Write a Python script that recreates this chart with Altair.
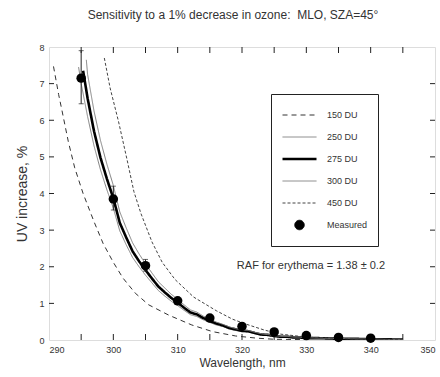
import altair as alt
import pandas as pd

series_names = ["150 DU", "250 DU", "275 DU", "300 DU", "450 DU", "Measured"]

wl_150 = [290.7, 291.5, 292, 293, 294, 295.3, 297, 298.4, 300, 301.5, 303.4, 305.5, 308.6, 312.2, 315.4, 319, 322.3, 325, 330]
val_150 = [7.47, 6.7, 6.28, 5.42, 4.7, 4.0, 3.23, 2.64, 2.12, 1.69, 1.28, 0.96, 0.68, 0.41, 0.23, 0.11, 0.05, 0.02, 0.01]

wl_275 = [295.3, 296, 297, 298, 299, 300, 301, 302, 303, 304, 305, 306, 307, 308, 309, 310, 311, 312, 313, 314,
          315, 316, 317, 318, 319, 320, 321, 322, 323, 324, 325, 326, 327, 328, 329, 330, 332, 334, 336, 338,
          340, 342, 345]
val_275 = [7.35, 6.6, 5.7, 4.98, 4.4, 3.87, 3.2, 2.8, 2.42, 2.15, 1.91, 1.68, 1.46, 1.3, 1.15, 1.02, 0.88, 0.75, 0.7, 0.6,
           0.52, 0.45, 0.4, 0.33, 0.29, 0.25, 0.24, 0.19, 0.15, 0.14, 0.11, 0.09, 0.09, 0.07, 0.07, 0.05, 0.05, 0.04, 0.03, 0.03,
           0.02, 0.02, 0.01]

wl_250 = [294.6, 295, 296, 297, 298, 299, 300, 301, 302, 303, 304, 305, 306, 307, 308, 309, 310, 311, 312, 313, 314,
          315, 316, 317, 318, 319, 320, 321, 322, 323, 324, 325, 326, 327, 328, 329, 330, 332, 334, 336, 338,
          340, 342, 345]
val_250 = [7.45, 7.0, 6.1, 5.3, 4.65, 4.1, 3.6, 2.98, 2.6, 2.25, 2.0, 1.77, 1.56, 1.35, 1.2, 1.06, 0.94, 0.81, 0.69, 0.64, 0.55,
           0.48, 0.41, 0.37, 0.3, 0.26, 0.23, 0.22, 0.17, 0.13, 0.12, 0.1, 0.08, 0.08, 0.06, 0.06, 0.04, 0.04, 0.03, 0.03, 0.02,
           0.02, 0.01, 0.01]

wl_300 = [295.8, 296, 297, 298, 299, 300, 301, 302, 303, 304, 305, 306, 307, 308, 309, 310, 311, 312, 313, 314,
          315, 316, 317, 318, 319, 320, 321, 322, 323, 324, 325, 326, 327, 328, 329, 330, 332, 334, 336, 338,
          340, 342, 345]
val_300 = [7.65, 7.25, 6.25, 5.45, 4.8, 4.22, 3.5, 3.06, 2.65, 2.35, 2.08, 1.83, 1.59, 1.42, 1.25, 1.11, 0.96, 0.82, 0.76, 0.65,
           0.57, 0.49, 0.43, 0.36, 0.31, 0.27, 0.26, 0.21, 0.17, 0.15, 0.12, 0.1, 0.1, 0.08, 0.08, 0.06, 0.05, 0.04, 0.04, 0.03,
           0.03, 0.02, 0.01]

wl_450 = [298.6, 299.5, 300.8, 302.1, 303.2, 304.3, 306, 307.6, 309.6, 312.5, 316, 318.5, 320.5, 323.5, 326, 330, 335, 340, 345]
val_450 = [7.7, 6.88, 5.97, 4.95, 4.05, 3.45, 2.68, 2.12, 1.65, 1.17, 0.8, 0.57, 0.44, 0.27, 0.16, 0.08, 0.04, 0.02, 0.01]

meas_wl = [295, 300, 305, 310, 315, 320, 325, 330, 335, 340]
meas_val = [7.15, 3.85, 2.03, 1.07, 0.6, 0.37, 0.22, 0.12, 0.07, 0.05]

err_wl = [295, 300, 305]
err_lo = [6.45, 3.55, 1.88]
err_hi = [7.9, 4.2, 2.2]

x_labels = [290, 300, 310, 320, 330, 340, 350]
y_labels = [0, 1, 2, 3, 4, 5, 6, 7, 8]
x_ticks = [295, 300, 305, 310, 315, 320, 325, 330, 335, 340, 345]
y_ticks = [1, 2, 3, 4, 5, 6, 7]

raf_text = "RAF for erythema = 1.38 \u00b1 0.2"
raf_x = [319.2]
raf_y = [2.02]

title_text = "Sensitivity to a 1% decrease in ozone:\u00a0 MLO, SZA=45\u00b0"

# ---------- build tables ----------
rows = []
for name, wls, vals in [("150 DU", wl_150, val_150), ("250 DU", wl_250, val_250),
                        ("275 DU", wl_275, val_275), ("300 DU", wl_300, val_300),
                        ("450 DU", wl_450, val_450)]:
    for w, v in zip(wls, vals):
        rows.append({"series": name, "wl": w, "val": v})
lines_df = pd.DataFrame(rows)
meas_df = pd.DataFrame({"series": "Measured", "wl": meas_wl, "val": meas_val})
err_df = pd.DataFrame({"wl": err_wl, "val": err_lo, "val2": err_hi})
err_lo_df = pd.DataFrame({"wl": err_wl, "val": err_lo})
err_hi_df = pd.DataFrame({"wl": err_wl, "val": err_hi})
xt_df = pd.DataFrame({"wl": x_ticks})
yt_df = pd.DataFrame({"val": y_ticks})
raf_df = pd.DataFrame({"wl": raf_x, "val": raf_y, "t": [raf_text]})

narrow = "'Liberation Sans Narrow', 'Liberation Sans', Arial, sans-serif"
regular = "'Liberation Sans', Arial, sans-serif"

xs = alt.Scale(domain=[290, 350], nice=False, zero=False)
ys = alt.Scale(domain=[0, 8], nice=False, zero=False)
x_axis = alt.Axis(values=x_labels, title="Wavelength, nm", ticks=False, tickSize=0, domain=False, grid=False,
                  labelFont=narrow, labelFontSize=9, labelColor="#333", labelPadding=5,
                  titleFont=regular, titleFontSize=12, titleFontWeight="normal", titleColor="#333", titlePadding=3)
y_axis = alt.Axis(values=y_labels, title="UV increase, %", ticks=False, tickSize=0, domain=False, grid=False,
                  labelFont=narrow, labelFontSize=9, labelColor="#333", labelPadding=5,
                  titleFont=regular, titleFontSize=14, titleFontWeight="normal", titleColor="#333", titlePadding=9)

X = alt.X("wl:Q", scale=xs, axis=x_axis)
Y = alt.Y("val:Q", scale=ys, axis=y_axis)

leg = alt.Legend(title=None, orient="none", legendX=222, legendY=47, strokeColor="#222", fillColor="white",
                 padding=10, labelFont=narrow, labelFontSize=9, labelColor="#333", clipHeight=22,
                 rowPadding=0, labelOffset=9)

color_scale = alt.Scale(domain=series_names, range=["#333", "#808080", "#000", "#808080", "#444", "#000"])
dash_scale = alt.Scale(domain=series_names, range=[[5, 4], [1, 0], [1, 0], [1, 0], [3, 2], [1, 0]])
sw_scale = alt.Scale(type="ordinal", domain=series_names, range=[1, 1, 2.6, 1, 1, 1])
shape_scale = alt.Scale(domain=series_names, range=["stroke", "stroke", "stroke", "stroke", "stroke", "circle"])
size_scale = alt.Scale(type="ordinal", domain=series_names, range=[1156, 1156, 1156, 1156, 1156, 90])

lines = alt.Chart(lines_df).mark_line(clip=True).encode(
    x=X, y=Y,
    color=alt.Color("series:N", scale=color_scale, legend=leg),
    strokeDash=alt.StrokeDash("series:N", scale=dash_scale, legend=leg),
    strokeWidth=alt.StrokeWidth("series:N", scale=sw_scale, legend=leg),
    order="wl:Q",
)

points = alt.Chart(meas_df).mark_point(filled=True, opacity=1).encode(
    x=X, y=Y,
    color=alt.Color("series:N", scale=color_scale, legend=leg),
    shape=alt.Shape("series:N", scale=shape_scale, legend=leg),
    size=alt.Size("series:N", scale=size_scale, legend=leg),
)

err_rule = alt.Chart(err_df).mark_rule(color="#222", strokeWidth=1).encode(x=X, y=Y, y2="val2:Q")
cap_lo = alt.Chart(err_lo_df).mark_tick(color="#222", thickness=1, size=5, orient="horizontal").encode(x=X, y=Y)
cap_hi = alt.Chart(err_hi_df).mark_tick(color="#222", thickness=1, size=5, orient="horizontal").encode(x=X, y=Y)

top_ticks = alt.Chart(xt_df).mark_rule(color="#222").encode(x=X, y=alt.value(0), y2=alt.value(6))
bot_ticks = alt.Chart(xt_df).mark_rule(color="#222").encode(x=X, y=alt.value(293), y2=alt.value(287))
left_ticks = alt.Chart(yt_df).mark_rule(color="#222").encode(y=Y, x=alt.value(0), x2=alt.value(5))
right_ticks = alt.Chart(yt_df).mark_rule(color="#222").encode(y=Y, x=alt.value(386), x2=alt.value(381))

raf = alt.Chart(raf_df).mark_text(align="left", baseline="middle", font=regular, fontSize=11, color="#333").encode(
    x=X, y=Y, text="t:N")

chart = alt.layer(
    top_ticks, bot_ticks, left_ticks, right_ticks,
    lines, err_rule, cap_lo, cap_hi, points, raf,
).properties(
    width=386, height=293,
    padding={"left": 49, "top": 47, "right": 5, "bottom": 37},
    autosize=alt.AutoSizeParams(type="none"),
    title=alt.TitleParams(title_text, font=regular, fontSize=12, fontWeight="normal", color="#333",
                          anchor="middle", offset=21, dx=-9),
).configure_view(stroke="#111", strokeWidth=1).configure(background="white")

chart.save("out.html", embed_options={"renderer": "svg", "actions": False})
